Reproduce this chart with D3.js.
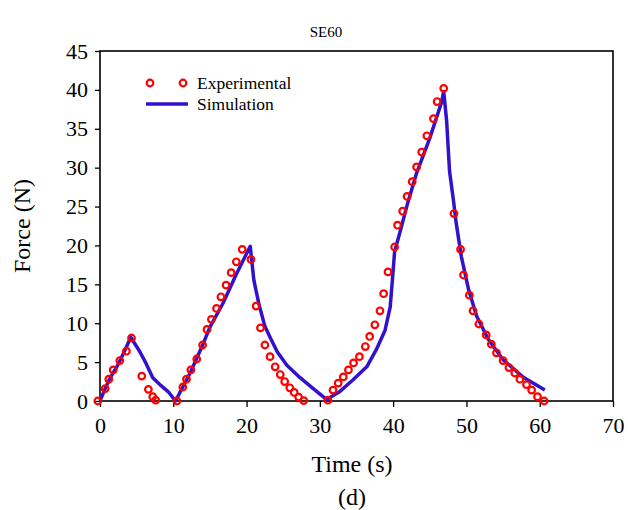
<!DOCTYPE html>
<html>
<head>
<meta charset="utf-8">
<script src="https://cdn.jsdelivr.net/npm/d3@7"></script>
<style>
  body { margin: 0; background: #fff; }
  text { font-family: "Liberation Serif", "Times New Roman", serif; }
</style>
</head>
<body>
<div id="chart"></div>
<script>
// Experimental data (time s, force N)
var expTime = [-0.3, 0.7, 1.2, 1.8, 2.7, 3.6, 4.3, 5.7, 6.6, 7.2, 7.6,
    10.5, 11.3, 11.8, 12.4, 13.2, 14.0, 14.6, 15.2, 15.9, 16.5, 17.2, 17.9, 18.6, 19.4, 20.6,
    21.3, 21.9, 22.5, 23.2, 23.9, 24.6, 25.2, 25.9, 26.5, 27.1, 27.8,
    31.1, 31.8, 32.5, 33.2, 33.9, 34.6, 35.4, 36.2, 36.8, 37.5, 38.2, 38.7, 39.3, 40.2, 40.6,
    41.3, 41.9, 42.6, 43.2, 43.9, 44.6, 45.5, 46.0, 46.9,
    48.3, 49.2, 49.6, 50.4, 50.9, 51.7, 52.7, 53.4, 54.1, 55.0, 55.8, 56.6, 57.3, 58.2, 58.9, 59.7, 60.6];
var expForce = [0, 1.6, 2.8, 4.0, 5.2, 6.4, 8.1, 3.2, 1.5, 0.55, 0.1,
    0, 1.8, 2.8, 4.0, 5.4, 7.2, 9.2, 10.5, 11.9, 13.4, 14.9, 16.5, 17.9, 19.5, 18.2,
    12.2, 9.4, 7.2, 5.7, 4.4, 3.4, 2.5, 1.7, 1.1, 0.5, 0.05,
    0.1, 1.4, 2.3, 3.1, 4.0, 4.9, 5.7, 7.0, 8.3, 9.8, 11.6, 13.8, 16.6, 19.8, 22.6,
    24.4, 26.3, 28.2, 30.1, 32.0, 34.1, 36.3, 38.5, 40.2,
    24.1, 19.5, 16.2, 13.6, 11.6, 9.9, 8.5, 7.3, 6.2, 5.2, 4.3, 3.6, 2.8, 2.1, 1.4, 0.55, 0];

// Simulation curve
var simTime = [0, 0.7, 1.4, 2.3, 3.2, 4.2, 5.4, 6.3, 7.2, 8.3, 9.4, 10.3,
    12.3, 14.1, 15.0, 16.8, 18.6, 20.5, 21.0, 21.7, 22.5, 23.3, 24.2, 25.5, 27.3, 29.1, 30.9,
    32.7, 34.5, 36.4, 37.7, 38.9, 39.6, 39.9, 40.2, 40.9, 42.0, 43.2, 45.0, 46.6, 46.9,
    47.3, 47.7, 48.2, 48.6, 49.3, 50.3, 51.4, 53.0, 55.0, 57.7, 60.7];
var simForce = [0, 1.6, 3.0, 4.4, 6.1, 8.2, 6.4, 4.8, 3.0, 2.0, 1.1, 0,
    3.6, 7.4, 9.5, 12.6, 16.3, 19.9, 15.5, 12.4, 9.6, 8.0, 6.3, 4.6, 3.0, 1.6, 0.2,
    1.2, 2.7, 4.4, 6.6, 9.1, 12.1, 15.6, 19.2, 21.6, 25.5, 29.3, 33.8, 38.4, 39.8,
    36.0, 29.5, 26.0, 22.9, 18.6, 14.3, 10.9, 7.9, 5.3, 3.1, 1.4];

var xTicks = [0, 10, 20, 30, 40, 50, 60, 70];
var yTicks = [0, 5, 10, 15, 20, 25, 30, 35, 40, 45];

var W = 628, H = 510;
var margin = { top: 51, right: 15, bottom: 109, left: 100 };
var width = W - margin.left - margin.right,
    height = H - margin.top - margin.bottom;

var svg = d3.select("#chart").append("svg")
    .attr("width", W)
    .attr("height", H);

var g = svg.append("g")
    .attr("transform", "translate(" + margin.left + "," + margin.top + ")");

var x = d3.scaleLinear().domain([0, 70]).range([0, width]);
var y = d3.scaleLinear().domain([0, 45]).range([height, 0]);

// axes
var xAxis = d3.axisBottom(x).tickValues(xTicks).tickSize(6).tickSizeOuter(0);
var yAxis = d3.axisLeft(y).tickValues(yTicks).tickSize(5).tickSizeOuter(0);

g.append("g")
    .attr("transform", "translate(0," + height + ")")
    .call(xAxis)
    .call(function(a) {
        a.select(".domain").remove();
        a.selectAll("line").attr("stroke-width", 1.3);
        a.selectAll("text").attr("font-size", 22).attr("y", 12).attr("dy", "0.9em")
            .style("font-family", "Liberation Serif, serif");
    });

g.append("g")
    .call(yAxis)
    .call(function(a) {
        a.select(".domain").remove();
        a.selectAll("line").attr("stroke-width", 1.3);
        a.selectAll("text").attr("font-size", 22).attr("x", -12)
            .style("font-family", "Liberation Serif, serif");
    });

// frame
g.append("rect")
    .attr("width", width)
    .attr("height", height)
    .attr("fill", "none")
    .attr("stroke", "#000")
    .attr("stroke-width", 1.6);

// simulation line
var line = d3.line()
    .x(function(d, i) { return x(simTime[i]); })
    .y(function(d) { return y(d); });

g.append("path")
    .datum(simForce)
    .attr("fill", "none")
    .attr("stroke", "#3311cc")
    .attr("stroke-width", 3.5)
    .attr("stroke-linejoin", "round")
    .attr("d", line);

// experimental points
g.selectAll("circle.exp")
    .data(expForce)
    .enter().append("circle")
    .attr("class", "exp")
    .attr("cx", function(d, i) { return x(expTime[i]); })
    .attr("cy", function(d) { return y(d); })
    .attr("r", 3.3)
    .attr("fill", "none")
    .attr("stroke", "#ff0000")
    .attr("stroke-width", 2.2);

// legend
var leg = svg.append("g");
[150, 183].forEach(function(cx) {
    leg.append("circle")
        .attr("cx", cx).attr("cy", 83).attr("r", 3.3)
        .attr("fill", "none").attr("stroke", "#ff0000").attr("stroke-width", 2.2);
});
leg.append("text").attr("x", 197).attr("y", 89).attr("font-size", 17.5).text("Experimental");
leg.append("line")
    .attr("x1", 146).attr("x2", 188).attr("y1", 104).attr("y2", 104)
    .attr("stroke", "#3311cc").attr("stroke-width", 3.5);
leg.append("text").attr("x", 197).attr("y", 110).attr("font-size", 17.5).text("Simulation");

// titles
svg.append("text")
    .attr("x", 326).attr("y", 37)
    .attr("text-anchor", "middle")
    .attr("font-size", 15)
    .text("SE60");

svg.append("text")
    .attr("x", 352).attr("y", 472)
    .attr("text-anchor", "middle")
    .attr("font-size", 24)
    .text("Time (s)");

svg.append("text")
    .attr("x", 352).attr("y", 505)
    .attr("text-anchor", "middle")
    .attr("font-size", 24)
    .text("(d)");

svg.append("text")
    .attr("transform", "translate(30," + (margin.top + height / 2) + ") rotate(-90)")
    .attr("text-anchor", "middle")
    .attr("font-size", 24)
    .text("Force (N)");
</script>
</body>
</html>
